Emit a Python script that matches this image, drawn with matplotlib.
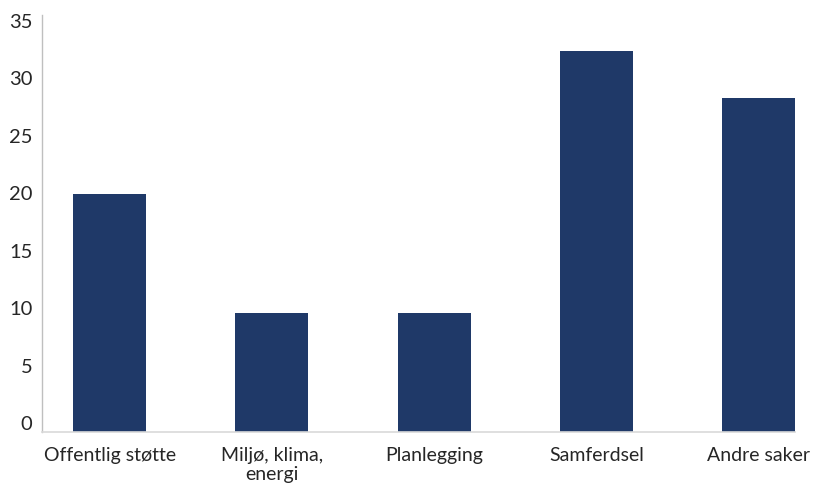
import matplotlib
matplotlib.use("Agg")
import matplotlib.pyplot as plt
import matplotlib.transforms as mtransforms

# ---------- Daten ----------
kategorien = ["Offentlig støtte", "Miljø, klima,\nenergi", "Planlegging", "Samferdsel", "Andre saker"]
werte = [20, 10, 10, 32, 28]
y_ticks = [0, 5, 10, 15, 20, 25, 30, 35]

plt.rcParams["font.family"] = ["Lato", "DejaVu Sans"]

fig = plt.figure(figsize=(8.15, 4.90), dpi=100)
ax = fig.add_axes([0.0515, 0.1184, 0.924, 0.851])

x = list(range(len(kategorien)))
ax.bar(x, werte, width=0.45, color="#1f3968")

ax.set_xlim(-0.417, 4.225)
ax.set_ylim(0, 35)
ax.set_yticks(y_ticks)
ax.set_xticks(x)
ax.set_xticklabels(kategorien, fontsize=14, color="#262626", linespacing=1.15)
ax.tick_params(axis="y", length=0, pad=7, labelsize=14.5, labelcolor="#262626")
ax.tick_params(axis="x", length=0, pad=11)

# y-Beschriftungen leicht versetzt wie im Original
for lbl, v in zip(ax.get_yticklabels(), y_ticks):
    dy = (9 - 15 * v / 35) / 100
    lbl.set_transform(lbl.get_transform() + mtransforms.ScaledTranslation(0, dy, fig.dpi_scale_trans))

for s in ["top", "right"]:
    ax.spines[s].set_visible(False)
ax.spines["left"].set_color("#bfbfbf")
ax.spines["bottom"].set_color("#d9d9d9")
ax.spines["left"].set_linewidth(1.0)
ax.spines["bottom"].set_linewidth(1.2)

fig.savefig("out.png", dpi=100)
